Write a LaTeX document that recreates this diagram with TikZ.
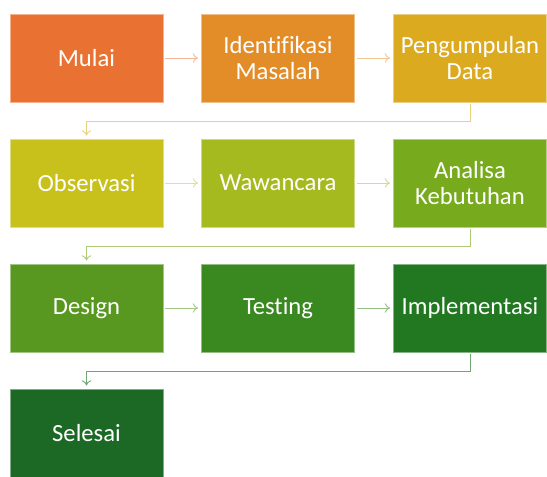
\documentclass[tikz,border=0pt]{standalone}
\usepackage{fontspec}
\setmainfont[Ligatures={NoCommon,NoRare,NoDiscretionary}]{Carlito}
\usetikzlibrary{arrows.meta}

\newlength{\du}
\setlength{\du}{0.75pt}

\definecolor{stepa}{RGB}{233,113,50}
\definecolor{stepb}{RGB}{227,141,40}
\definecolor{stepc}{RGB}{219,170,31}
\definecolor{stepd}{RGB}{201,193,27}
\definecolor{stepe}{RGB}{164,186,30}
\definecolor{stepf}{RGB}{120,170,30}
\definecolor{stepg}{RGB}{89,152,32}
\definecolor{steph}{RGB}{58,137,32}
\definecolor{stepi}{RGB}{33,120,33}
\definecolor{stepj}{RGB}{27,105,37}

\tikzset{
  stepbox/.style={rectangle, minimum width=153\du, minimum height=88\du,
    inner sep=2pt, align=center, text=white, line width=0.75\du,
    font=\fontsize{18.5}{19.5}\selectfont},
  flow/.style={line width=0.9\du, -{To[length=4pt,width=7pt]},
    shorten <=2\du, shorten >=3\du},
}

\begin{document}
\begin{tikzpicture}[yscale=-1]
\useasboundingbox (0,0) rectangle (547\du,477\du);
% baris pertama
\node[stepbox, fill=stepa, draw=stepa!55!white] (mulai) at (86.5\du,58\du) {Mulai};
\node[stepbox, fill=stepb, draw=stepb!55!white] (identifikasi) at (278\du,58\du) {Identifikasi\\Masalah};
\node[stepbox, fill=stepc, draw=stepc!55!white] (pengumpulan) at (470\du,58\du) {Pengumpulan\\Data};
% baris kedua
\node[stepbox, fill=stepd, draw=stepd!55!white] (observasi) at (86.5\du,183\du) {Observasi};
\node[stepbox, fill=stepe, draw=stepe!55!white] (wawancara) at (278\du,183\du) {Wawancara};
\node[stepbox, fill=stepf, draw=stepf!55!white] (analisa) at (470\du,183\du) {Analisa\\Kebutuhan};
% baris ketiga
\node[stepbox, fill=stepg, draw=stepg!55!white] (design) at (86.5\du,308\du) {Design};
\node[stepbox, fill=steph, draw=steph!55!white] (testing) at (278\du,308\du) {Testing};
\node[stepbox, fill=stepi, draw=stepi!55!white] (implementasi) at (470\du,308\du) {Implementasi};
% baris keempat
\node[stepbox, fill=stepj, draw=stepj!55!white] (selesai) at (86.5\du,433\du) {Selesai};

% panah antar langkah
\draw[flow, draw=stepa!50!white] (mulai) -- (identifikasi);
\draw[flow, draw=stepb!50!white] (identifikasi) -- (pengumpulan);
\draw[flow, draw=stepc!55!white] (pengumpulan.south) -- ++(0,19\du) -| (observasi.north);
\draw[flow, draw=stepd!50!white] (observasi) -- (wawancara);
\draw[flow, draw=stepe!50!white] (wawancara) -- (analisa);
\draw[flow, draw=stepf!60!white] (analisa.south) -- ++(0,19\du) -| (design.north);
\draw[flow, draw=stepg!55!white] (design) -- (testing);
\draw[flow, draw=steph!55!white] (testing) -- (implementasi);
\draw[flow, draw=stepi!65!white] (implementasi.south) -- ++(0,19\du) -| (selesai.north);
\end{tikzpicture}
\end{document}
